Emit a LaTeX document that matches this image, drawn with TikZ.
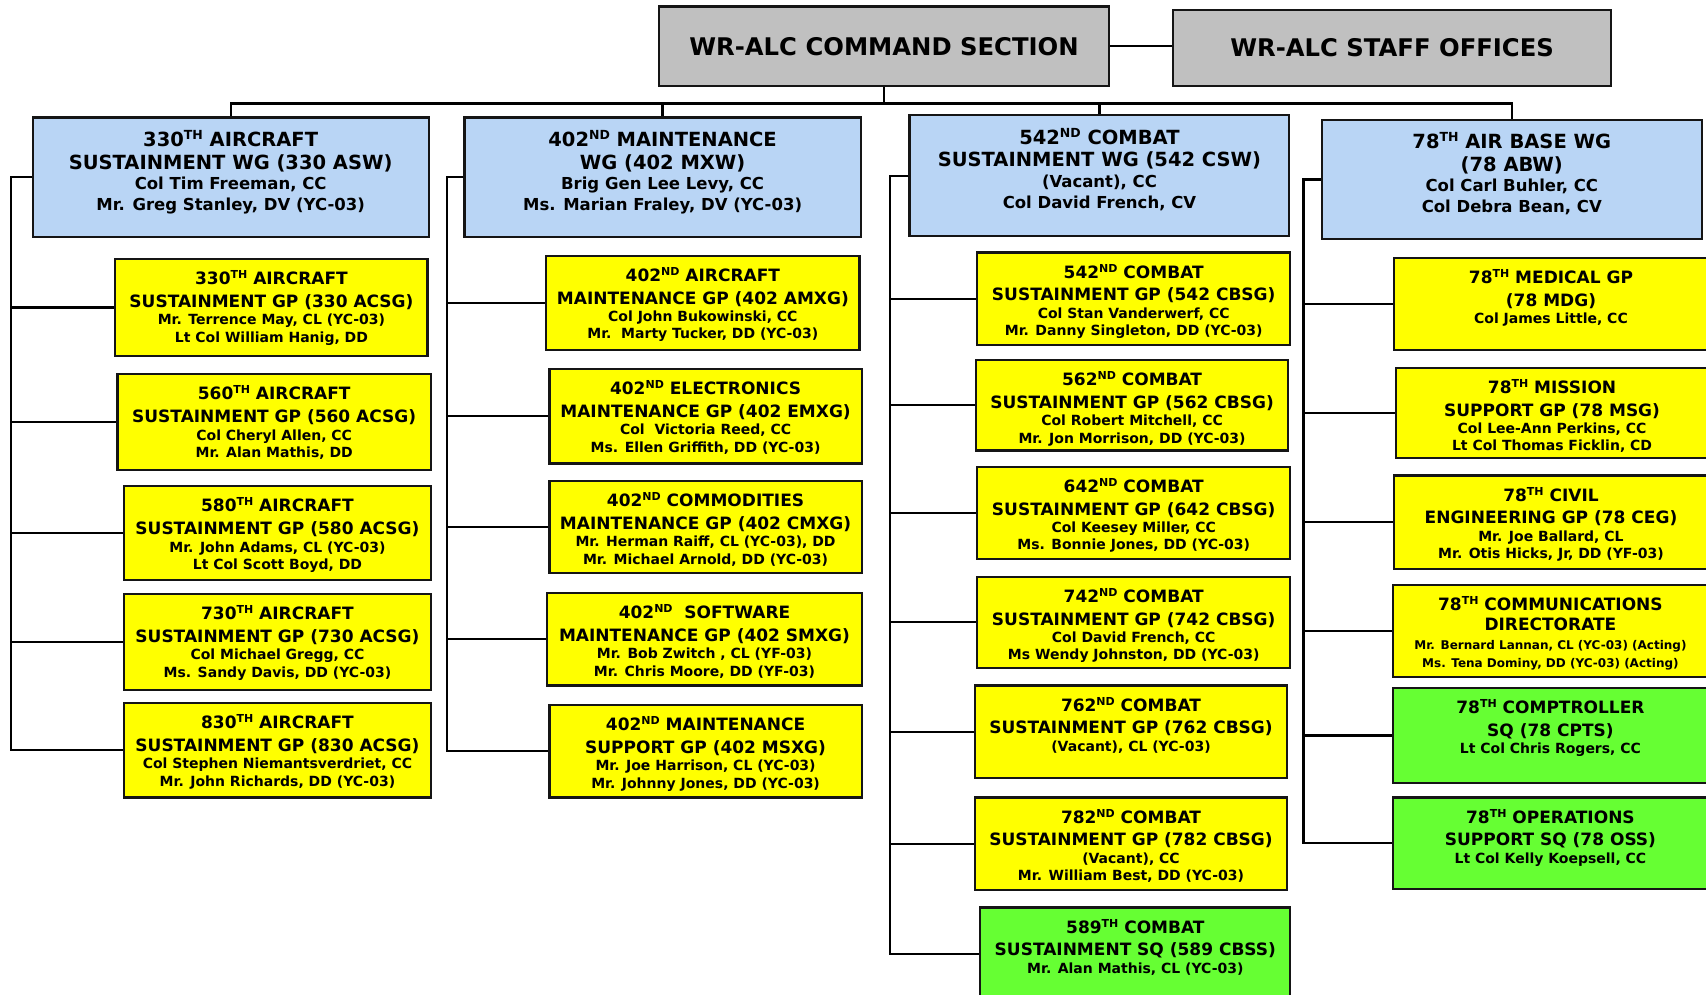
\documentclass[tikz,border=0pt]{standalone}
\usepackage{fontspec}
\setmainfont{DejaVu Sans}
\usetikzlibrary{fit,calc}
\definecolor{ylw}{HTML}{FFFF00}
\definecolor{blu}{HTML}{B9D5F5}
\definecolor{grn}{HTML}{66FF33}
\definecolor{gry}{HTML}{C0C0C0}
\definecolor{edge}{HTML}{151515}
\newcommand{\yt}{\fontsize{17}{22.8}\selectfont\bfseries}
\newcommand{\yn}{\fontsize{14}{17.4}\selectfont\bfseries}
\newcommand{\ysn}{\fontsize{12}{18.5}\selectfont\bfseries}
\newcommand{\bt}{\fontsize{19.5}{22.8}\selectfont\bfseries}
\newcommand{\bn}{\fontsize{16.5}{20.7}\selectfont\bfseries}
\newcommand{\ct}{\fontsize{24.3}{28}\selectfont\bfseries}
\newcommand{\ysup}[1]{\raisebox{6pt}{\fontsize{11}{11}\selectfont\bfseries #1}}
\newcommand{\bsup}[1]{\raisebox{7pt}{\fontsize{12.5}{12.5}\selectfont\bfseries #1}}
\tikzset{
  box/.style={draw=edge, line width=2.2pt, inner sep=0pt},
  ybox/.style={box, fill=ylw},
  bbox/.style={box, fill=blu},
  gbox/.style={box, fill=grn},
  cbox/.style={box, fill=gry},
  ctxt/.style={inner sep=0pt, font=\ct},
  ytxt/.style={anchor=north, align=center, inner sep=0pt, font=\yn},
  btxt/.style={anchor=north, align=center, inner sep=0pt, font=\bn},
  conn/.style={draw=black, line width=2.3pt},
}
% name, style, x1, y1, x2, y2, text
\newcommand{\ybx}[7]{%
  \node[#2, fit={(#3,#4) (#5,#6)}] (#1) {};
  \node[ytxt] (#1t) at ([yshift=-12.5pt]#1.north) {#7};
}
\newcommand{\bbx}[6]{%
  \node[bbox, fit={(#2,#3) (#4,#5)}] (#1) {};
  \node[btxt] (#1t) at ([yshift=-13.5pt]#1.north) {#6};
}
\begin{document}
\begin{tikzpicture}[x=1.088pt,y=-1.088pt]
\useasboundingbox (0,0) rectangle (1568,914);

% top level
\node[cbox, fit={(606,6) (1019,79)}] (cmd) {};
\node[ctxt] (cmdt) at (cmd.center) {WR-ALC COMMAND SECTION};
\node[cbox, fit={(1078,9) (1481,79)}] (staff) {};
\node[ctxt] (stafft) at (staff.center) {WR-ALC STAFF OFFICES};

% wings
\bbx{w1}{30}{108}{394}{218}{{\bt 330\bsup{TH} AIRCRAFT}\\[2.1pt]{\bt SUSTAINMENT WG (330 ASW)}\\Col Tim Freeman, CC\\Mr. Greg Stanley, DV (YC-03)}
\bbx{w2}{427}{108}{791}{218}{{\bt 402\bsup{ND} MAINTENANCE}\\[2.1pt]{\bt WG (402 MXW)}\\Brig Gen Lee Levy, CC\\Ms. Marian Fraley, DV (YC-03)}
\bbx{w3}{836}{106}{1185}{217}{{\bt 542\bsup{ND} COMBAT}\\[2.1pt]{\bt SUSTAINMENT WG (542 CSW)}\\(Vacant), CC\\Col David French, CV}
\bbx{w4}{1215}{110}{1564}{220}{{\bt 78\bsup{TH} AIR BASE WG}\\[2.1pt]{\bt (78 ABW)}\\Col Carl Buhler, CC\\Col Debra Bean, CV}

% column 1
\ybx{g1}{ybox}{106}{238}{393}{327}{{\yt 330\ysup{TH} AIRCRAFT}\\[5.4pt]{\yt SUSTAINMENT GP (330 ACSG)}\\Mr. Terrence May, CL (YC-03)\\Lt Col William Hanig, DD}
\ybx{g2}{ybox}{108}{344}{396}{432}{{\yt 560\ysup{TH} AIRCRAFT}\\[5.4pt]{\yt SUSTAINMENT GP (560 ACSG)}\\Col Cheryl Allen, CC\\Mr. Alan Mathis, DD}
\ybx{g3}{ybox}{114}{447}{396}{533}{{\yt 580\ysup{TH} AIRCRAFT}\\[5.4pt]{\yt SUSTAINMENT GP (580 ACSG)}\\Mr. John Adams, CL (YC-03)\\Lt Col Scott Boyd, DD}
\ybx{g4}{ybox}{114}{546}{396}{634}{{\yt 730\ysup{TH} AIRCRAFT}\\[5.4pt]{\yt SUSTAINMENT GP (730 ACSG)}\\Col Michael Gregg, CC\\Ms. Sandy Davis, DD (YC-03)}
\ybx{g5}{ybox}{114}{646}{396}{733}{{\yt 830\ysup{TH} AIRCRAFT}\\[5.4pt]{\yt SUSTAINMENT GP (830 ACSG)}\\Col Stephen Niemantsverdriet, CC\\Mr. John Richards, DD (YC-03)}

% column 2
\ybx{m1}{ybox}{502}{235}{790}{322}{{\yt 402\ysup{ND} AIRCRAFT}\\[5.4pt]{\yt MAINTENANCE GP (402 AMXG)}\\Col John Bukowinski, CC\\Mr.\ \ Marty Tucker, DD (YC-03)}
\ybx{m2}{ybox}{505}{339}{792}{426}{{\yt 402\ysup{ND} ELECTRONICS}\\[5.4pt]{\yt MAINTENANCE GP (402 EMXG)}\\Col\ \ Victoria Reed, CC\\Ms. Ellen Griffith, DD (YC-03)}
\ybx{m3}{ybox}{505}{442}{792}{527}{{\yt 402\ysup{ND} COMMODITIES}\\[5.4pt]{\yt MAINTENANCE GP (402 CMXG)}\\Mr. Herman Raiff, CL (YC-03), DD\\Mr. Michael Arnold, DD (YC-03)}
\ybx{m4}{ybox}{503}{545}{792}{630}{{\yt 402\ysup{ND}\ \ SOFTWARE}\\[5.4pt]{\yt MAINTENANCE GP (402 SMXG)}\\Mr. Bob Zwitch , CL (YF-03)\\Mr. Chris Moore, DD (YF-03)}
\ybx{m5}{ybox}{505}{648}{792}{733}{{\yt 402\ysup{ND} MAINTENANCE}\\[5.4pt]{\yt SUPPORT GP (402 MSXG)}\\Mr. Joe Harrison, CL (YC-03)\\Mr. Johnny Jones, DD (YC-03)}

% column 3
\ybx{c1}{ybox}{898}{232}{1186}{317}{{\yt 542\ysup{ND} COMBAT}\\[5.4pt]{\yt SUSTAINMENT GP (542 CBSG)}\\Col Stan Vanderwerf, CC\\Mr. Danny Singleton, DD (YC-03)}
\ybx{c2}{ybox}{897}{331}{1184}{414}{{\yt 562\ysup{ND} COMBAT}\\[5.4pt]{\yt SUSTAINMENT GP (562 CBSG)}\\Col Robert Mitchell, CC\\Mr. Jon Morrison, DD (YC-03)}
\ybx{c3}{ybox}{898}{429}{1186}{514}{{\yt 642\ysup{ND} COMBAT}\\[5.4pt]{\yt SUSTAINMENT GP (642 CBSG)}\\Col Keesey Miller, CC\\Ms. Bonnie Jones, DD (YC-03)}
\ybx{c4}{ybox}{898}{530}{1186}{614}{{\yt 742\ysup{ND} COMBAT}\\[5.4pt]{\yt SUSTAINMENT GP (742 CBSG)}\\Col David French, CC\\Ms Wendy Johnston, DD (YC-03)}
\ybx{c5}{ybox}{896}{630}{1183}{715}{{\yt 762\ysup{ND} COMBAT}\\[5.4pt]{\yt SUSTAINMENT GP (762 CBSG)}\\(Vacant), CL (YC-03)}
\ybx{c6}{ybox}{896}{733}{1183}{818}{{\yt 782\ysup{ND} COMBAT}\\[5.4pt]{\yt SUSTAINMENT GP (782 CBSG)}\\(Vacant), CC\\Mr. William Best, DD (YC-03)}
\ybx{c7}{gbox}{901}{834}{1186}{920}{{\yt 589\ysup{TH} COMBAT}\\[5.4pt]{\yt SUSTAINMENT SQ (589 CBSS)}\\Mr. Alan Mathis, CL (YC-03)}

% column 4
\ybx{a1}{ybox}{1281}{237}{1570}{322}{{\yt 78\ysup{TH} MEDICAL GP}\\[5.4pt]{\yt (78 MDG)}\\Col James Little, CC}
\ybx{a2}{ybox}{1283}{338}{1570}{421}{{\yt 78\ysup{TH} MISSION}\\[5.4pt]{\yt SUPPORT GP (78 MSG)}\\Col Lee-Ann Perkins, CC\\Lt Col Thomas Ficklin, CD}
\ybx{a3}{ybox}{1281}{437}{1570}{523}{{\yt 78\ysup{TH} CIVIL}\\[5.4pt]{\yt ENGINEERING GP (78 CEG)}\\Mr. Joe Ballard, CL\\Mr. Otis Hicks, Jr, DD (YF-03)}
\node[ybox, fit={(1280,538) (1570,622)}] (a4) {};
\node[ytxt, font=\ysn] (a4t) at ([yshift=-12.5pt]a4.north) {{\yt 78\ysup{TH} COMMUNICATIONS}\\[1.1pt]{\yt DIRECTORATE}\\Mr. Bernard Lannan, CL (YC-03) (Acting)\\Ms. Tena Dominy, DD (YC-03) (Acting)};
\ybx{a5}{gbox}{1280}{632}{1570}{720}{{\yt 78\ysup{TH} COMPTROLLER}\\[5.4pt]{\yt SQ (78 CPTS)}\\Lt Col Chris Rogers, CC}
\ybx{a6}{gbox}{1280}{733}{1570}{817}{{\yt 78\ysup{TH} OPERATIONS}\\[5.4pt]{\yt SUPPORT SQ (78 OSS)}\\Lt Col Kelly Koepsell, CC}

% connectors
\coordinate (s1) at (10,0);
\coordinate (s2) at (411,0);
\coordinate (s3) at (818,0);
\coordinate (s4) at (1198,0);

\draw[conn] (cmd.east) -- (cmd.east -| staff.west);
\draw[conn] (cmd.south) -- ++(0,15) coordinate (bus);
\draw[conn] (w1.north) |- (bus) -| (w4.north);
\draw[conn] (w2.north) -- (w2.north |- bus);
\draw[conn] (w3.north) -- (w3.north |- bus);

\foreach \c in {g1,g2,g3,g4,g5}
  \draw[conn] (w1.west) -- (w1.west -| s1) |- (\c.west);
\foreach \c in {m1,m2,m3,m4,m5}
  \draw[conn] (w2.west) -- (w2.west -| s2) |- (\c.west);
\foreach \c in {c1,c2,c3,c4,c5,c6,c7}
  \draw[conn] (w3.west) -- (w3.west -| s3) |- (\c.west);
\foreach \c in {a1,a2,a3,a4,a5,a6}
  \draw[conn] (w4.west) -- (w4.west -| s4) |- (\c.west);
\end{tikzpicture}
\end{document}
